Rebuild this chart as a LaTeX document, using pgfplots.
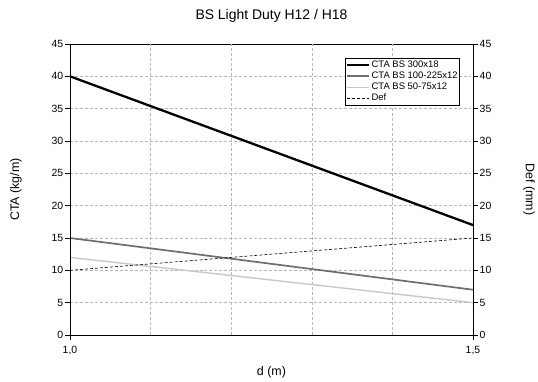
\documentclass[border=0pt]{standalone}
\usepackage{fontspec}
\setmainfont{Liberation Sans}
\usepackage{pgfplots}
\pgfplotsset{compat=1.18}
\definecolor{midgray}{RGB}{110,110,110}
\definecolor{lightgray2}{RGB}{200,200,200}
\begin{document}
\begin{tikzpicture}
\useasboundingbox (-70bp,-47bp) rectangle (468bp,335bp);
\begin{axis}[
  at={(0,0)}, anchor=south west,
  scale only axis, width=403bp, height=291bp,
  xmin=1, xmax=1.5, ymin=0, ymax=45,
  xtick={1,1.5}, xticklabels={1{,}0,1{,}5},
  extra x ticks={1.1,1.2,1.3,1.4}, extra x tick labels={},
  extra x tick style={grid=major, major tick length=0pt},
  ytick={0,5,...,45},
  ymajorgrids,
  grid style={densely dashed, gray!55, line width=0.5bp},
  tick align=outside, xtick pos=bottom, ytick pos=left,
  major tick length=5bp,
  axis line style={line width=0.8bp},
  tick style={line width=0.8bp, black},
  /pgf/number format/assume math mode=true,
  tick label style={font=\fontsize{10.5}{12}\selectfont},
  yticklabel style={inner sep=1.5bp},
  xticklabel style={yshift=-3bp},
  every axis y label/.style={at={(axis description cs:-0.134,0.5)}, anchor=center, rotate=90, font=\fontsize{12.5}{14}\selectfont},
  every axis x label/.style={at={(axis description cs:0.5,-0.128)}, anchor=center, font=\fontsize{12.5}{14}\selectfont},
  every axis title/.style={at={(axis description cs:0.5,1.098)}, anchor=center, font=\fontsize{14}{16}\selectfont},
  ylabel={CTA (kg/m)}, xlabel={d (m)},
  title={BS Light Duty H12 / H18},
  legend style={at={(axis description cs:1,1)}, anchor=north east, xshift=-13bp, yshift=-14bp,
    font=\fontsize{9.5}{11}\selectfont, draw=black, line width=0.6bp, inner sep=1bp, row sep=0bp,
    nodes={inner sep=1bp, text height=7bp, text depth=2.2bp},
    cells={anchor=west}},
  legend image code/.code={\draw[#1] (0bp,0bp) -- (22bp,0bp);},
]
\addplot[black, line width=2.3bp] coordinates {(1,40) (1.5,17)};
\addlegendentry{CTA BS 300x18}
\addplot[midgray, line width=1.7bp] coordinates {(1,15) (1.5,7)};
\addlegendentry{CTA BS 100-225x12}
\addplot[lightgray2, line width=1.4bp] coordinates {(1,12) (1.5,5)};
\addlegendentry{CTA BS 50-75x12}
\addplot[black, line width=0.6bp, dash pattern=on 3bp off 2bp] coordinates {(1,10) (1.5,15)};
\addlegendentry{Def}
\end{axis}
\begin{axis}[
  at={(0,0)}, anchor=south west,
  scale only axis, width=403bp, height=291bp,
  xmin=1, xmax=1.5, ymin=0, ymax=45,
  hide x axis,
  ytick={0,5,...,45},
  tick align=outside, ytick pos=right, yticklabel pos=right,
  major tick length=5bp,
  axis line style={line width=0.8bp},
  tick style={line width=0.8bp, black},
  /pgf/number format/assume math mode=true,
  tick label style={font=\fontsize{10.5}{12}\selectfont},
  yticklabel style={inner sep=1.5bp},
  every axis y label/.style={at={(axis description cs:1.139,0.5)}, anchor=center, rotate=-90, font=\fontsize{12.5}{14}\selectfont},
  ylabel={Def (mm)},
]
\end{axis}
\end{tikzpicture}
\end{document}
